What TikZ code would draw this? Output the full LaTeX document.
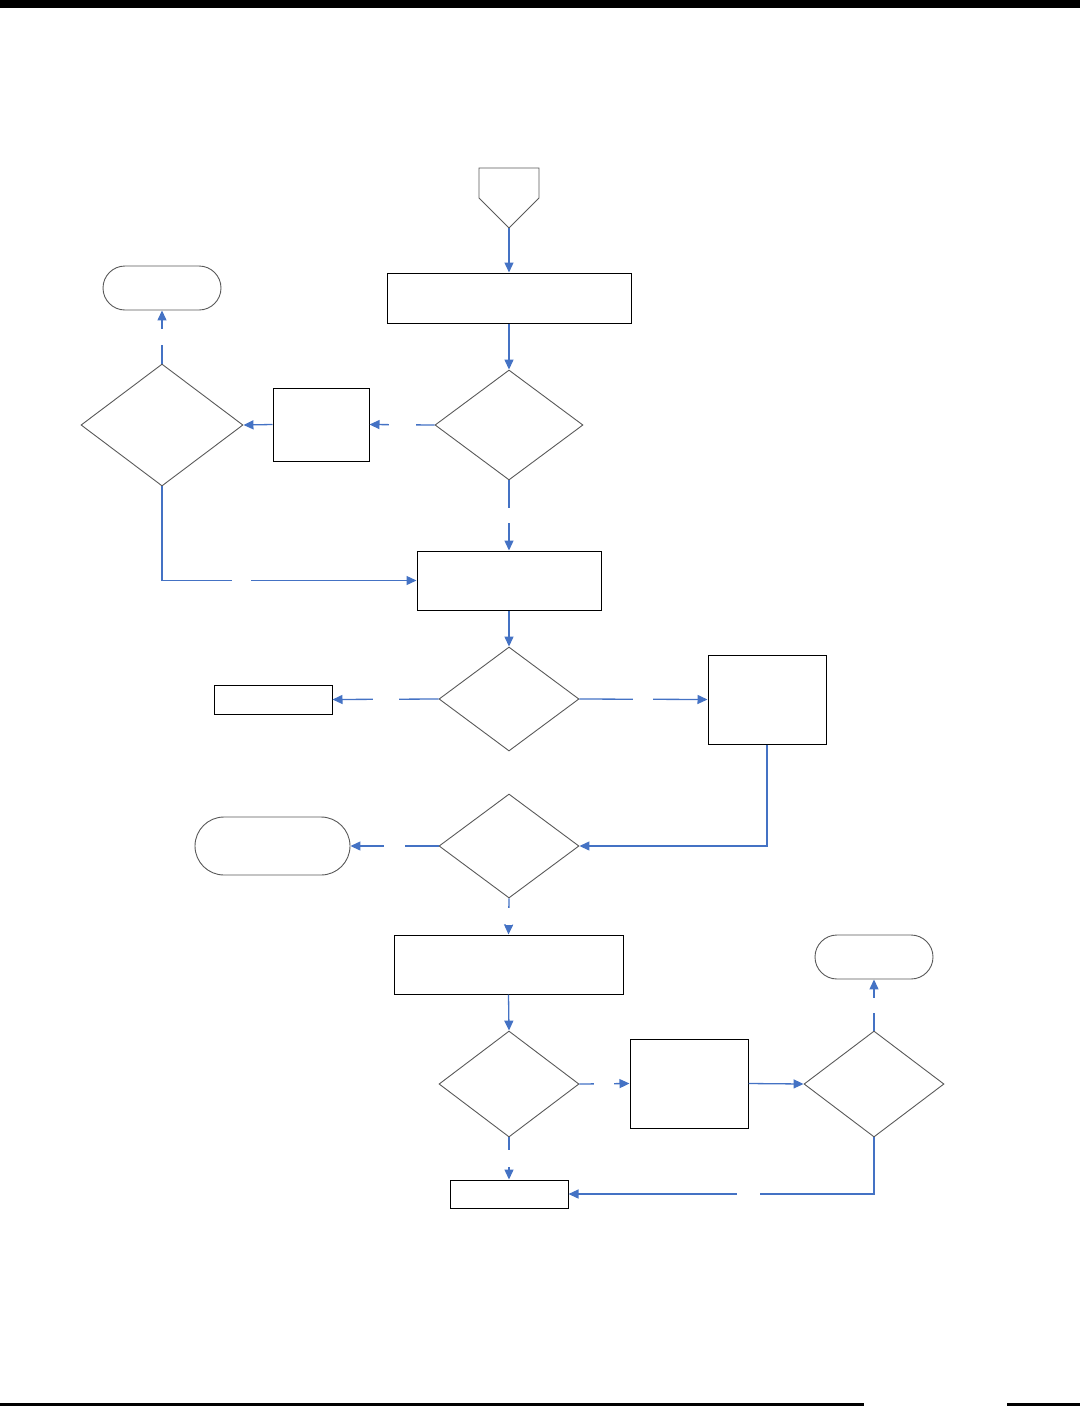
\documentclass[tikz,border=0pt]{standalone}
\usetikzlibrary{shapes.geometric,arrows.meta}
\definecolor{flowblue}{HTML}{4472C4}
\definecolor{shapegray}{HTML}{595959}
\begin{document}
\begin{tikzpicture}[x=1pt,y=-1pt,
  box/.style={draw=black,line width=1pt,rectangle,inner sep=0},
  dec/.style={draw=shapegray,line width=0.9pt,diamond,inner sep=0},
  term/.style={draw=shapegray,line width=0.9pt,rectangle,inner sep=0},
  flow/.style={draw=flowblue,line width=1.3pt,-{Triangle[length=10pt,width=9pt]}},
  hgap/.style={fill=white,inner sep=0,minimum height=6,minimum width=#1},
  vgap/.style={fill=white,inner sep=0,minimum width=6,minimum height=#1}]
\useasboundingbox (0,0) rectangle (1080,1406);
% page rules
\fill[black] (0,0) rectangle (1080,8);
\fill[black] (0,1402.5) rectangle (864,1406);
\fill[black] (1007,1402.5) rectangle (1080,1406);
% off-page connector
\draw[shapegray,line width=0.9pt] (479,168) -- (539,168) -- (539,198) -- (509,228) -- (479,198) -- cycle;
\coordinate (start) at (509,228);
% nodes
\node[box,minimum width=244,minimum height=50] (b1) at (509,298) {};
\node[dec,minimum width=148,minimum height=110] (d1) at (509,425) {};
\node[box,minimum width=96,minimum height=73] (b2) at (321,424.5) {};
\node[dec,minimum width=162,minimum height=122] (d2) at (162,425) {};
\node[term,rounded corners=22,minimum width=118,minimum height=44] (t1) at (162,288) {};
\node[box,minimum width=184,minimum height=59] (b3) at (509,580.5) {};
\node[dec,minimum width=140,minimum height=104] (d3) at (509,699) {};
\node[box,minimum width=118,minimum height=29] (b4) at (273,699.5) {};
\node[box,minimum width=118,minimum height=89] (b5) at (767,699.5) {};
\node[dec,minimum width=140,minimum height=104] (d4) at (509,846) {};
\node[term,rounded corners=29,minimum width=155,minimum height=58] (t2) at (272.5,846) {};
\node[box,minimum width=229,minimum height=59] (b6) at (508.5,964.5) {};
\node[dec,minimum width=140,minimum height=106] (d5) at (509,1084) {};
\node[box,minimum width=118,minimum height=89] (b7) at (689,1083.5) {};
\node[dec,minimum width=140,minimum height=106] (d6) at (874,1084) {};
\node[term,rounded corners=22,minimum width=118,minimum height=44] (t3) at (874,957) {};
\node[box,minimum width=118,minimum height=28] (b8) at (509,1194) {};
% connectors
\draw[flow] (start) -- (b1.north);
\draw[flow] (b1.south) -- (d1.north);
\draw[flow] (d1.west) -- node[hgap=27]{} (b2.east);
\draw[flow] (b2.west) -- (d2.east);
\draw[flow] (d2.north) -- node[vgap=16]{} (t1.south);
\draw[flow] (d1.south) -- node[vgap=15]{} (b3.north);
\draw[flow] (d2.south) |- node[pos=0.656,hgap=19]{} (b3.west);
\draw[flow] (b3.south) -- (d3.north);
\draw[flow] (d3.west) -- node[hgap=26]{} (b4.east);
\draw[flow] (d3.east) -- node[hgap=20]{} (b5.west);
\draw[flow] (b5.south) |- (d4.east);
\draw[flow] (d4.west) -- node[hgap=21]{} (t2.east);
\draw[flow] (d4.south) -- node[vgap=17]{} (b6.north);
\draw[flow] (b6.south) -- (d5.north);
\draw[flow] (d5.east) -- node[hgap=20]{} (b7.west);
\draw[flow] (b7.east) -- (d6.west);
\draw[flow] (d6.north) -- node[vgap=15]{} (t3.south);
\draw[flow] (d5.south) -- node[vgap=17]{} (b8.north);
\draw[flow] (d6.south) |- node[pos=0.705,hgap=23]{} (b8.east);
\end{tikzpicture}
\end{document}
